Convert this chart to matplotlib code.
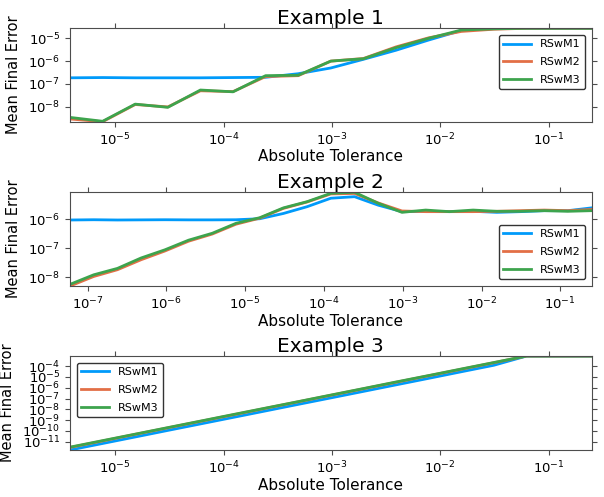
import matplotlib
matplotlib.use("Agg")
import matplotlib.pyplot as plt
from matplotlib.ticker import NullLocator

labels = ["RSwM1", "RSwM2", "RSwM3"]
colors = ["#009AFA", "#E26F46", "#3DA44D"]

# Example 1
x1 = [3.815e-6, 7.629e-6, 1.526e-5, 3.052e-5, 6.104e-5, 1.221e-4, 2.441e-4, 4.883e-4, 9.766e-4,
      1.953e-3, 3.906e-3, 7.813e-3, 1.563e-2, 3.125e-2, 6.25e-2, 0.125, 0.25]
ex1_m1 = [1.85e-7, 1.9e-7, 1.85e-7, 1.85e-7, 1.85e-7, 1.9e-7, 1.95e-7, 2.8e-7, 5.0e-7,
          1.2e-6, 3.0e-6, 8.4e-6, 2.2e-5, 2.75e-5, 2.75e-5, 2.75e-5, 2.75e-5]
ex1_m2 = [2.9e-9, 2.2e-9, 1.25e-8, 9.8e-9, 5.0e-8, 4.6e-8, 2.1e-7, 2.3e-7, 1.0e-6,
          1.3e-6, 4.2e-6, 1.05e-5, 2.0e-5, 2.5e-5, 2.75e-5, 2.75e-5, 2.75e-5]
ex1_m3 = [3.4e-9, 2.3e-9, 1.3e-8, 9.4e-9, 5.4e-8, 4.5e-8, 2.3e-7, 2.4e-7, 1.0e-6,
          1.27e-6, 3.9e-6, 1.0e-5, 2.3e-5, 2.6e-5, 2.75e-5, 2.75e-5, 2.75e-5]

# Example 2
x2 = [5.96e-8, 1.192e-7, 2.384e-7, 4.768e-7, 9.537e-7, 1.907e-6, 3.815e-6, 7.629e-6, 1.526e-5,
      3.052e-5, 6.104e-5, 1.221e-4, 2.441e-4, 4.883e-4, 9.766e-4, 1.953e-3, 3.906e-3, 7.813e-3,
      1.563e-2, 3.125e-2, 6.25e-2, 0.125, 0.25]
ex2_m1 = [0.95e-6, 0.97e-6, 0.95e-6, 0.96e-6, 0.97e-6, 0.96e-6, 0.96e-6, 0.97e-6, 1.05e-6,
          1.6e-6, 2.75e-6, 5.4e-6, 6.1e-6, 3.1e-6, 1.85e-6, 1.9e-6, 1.85e-6, 1.9e-6,
          1.75e-6, 1.85e-6, 2.0e-6, 2.0e-6, 2.5e-6]
ex2_m2 = [4.9e-9, 1.05e-8, 1.8e-8, 4.0e-8, 8.0e-8, 1.75e-7, 3.1e-7, 6.8e-7, 1.1e-6,
          2.4e-6, 4.0e-6, 7.6e-6, 7.9e-6, 3.7e-6, 1.95e-6, 1.85e-6, 1.85e-6, 1.85e-6,
          1.9e-6, 2.0e-6, 2.1e-6, 2.0e-6, 2.2e-6]
ex2_m3 = [5.6e-9, 1.2e-8, 2.0e-8, 4.6e-8, 8.8e-8, 1.9e-7, 3.3e-7, 7.3e-7, 1.14e-6,
          2.5e-6, 4.1e-6, 8.0e-6, 8.7e-6, 3.6e-6, 1.75e-6, 2.1e-6, 1.85e-6, 2.1e-6,
          1.9e-6, 1.9e-6, 2.0e-6, 1.9e-6, 2.0e-6]

# Example 3
x3 = x1
ex3_m1 = [1.75e-12, 7.0e-12, 2.8e-11, 1.13e-10, 4.5e-10, 1.8e-9, 7.2e-9, 2.9e-8, 1.15e-7,
          4.6e-7, 1.85e-6, 7.4e-6, 3.0e-5, 1.2e-4, 8.5e-4, 8.5e-4, 8.5e-4]
ex3_m2 = [3.0e-12, 1.2e-11, 4.9e-11, 1.95e-10, 7.8e-10, 3.1e-9, 1.25e-8, 5.0e-8, 2.0e-7,
          8.0e-7, 3.2e-6, 1.28e-5, 5.1e-5, 2.05e-4, 8.5e-4, 8.5e-4, 8.5e-4]
ex3_m3 = [3.2e-12, 1.28e-11, 5.1e-11, 2.05e-10, 8.2e-10, 3.3e-9, 1.31e-8, 5.2e-8, 2.1e-7,
          8.4e-7, 3.4e-6, 1.34e-5, 5.4e-5, 2.15e-4, 8.5e-4, 8.5e-4, 8.5e-4]

xt1 = [1e-5, 1e-4, 1e-3, 1e-2, 1e-1]
xt2 = [1e-7, 1e-6, 1e-5, 1e-4, 1e-3, 1e-2, 1e-1]
yt1 = [1e-8, 1e-7, 1e-6, 1e-5]
yt2 = [1e-8, 1e-7, 1e-6]
yt3 = [1e-11, 1e-10, 1e-9, 1e-8, 1e-7, 1e-6, 1e-5, 1e-4]

fig = plt.figure(figsize=(6.04, 4.97), dpi=100)


def panel(rect, title, x, series, xticks, yticks, loc):
    ax = fig.add_axes(rect)
    for ys, lab, c in zip(series, labels, colors):
        ax.plot(x, ys, color=c, lw=2, label=lab)
    ax.set_xscale("log")
    ax.set_yscale("log")
    ax.set_xlim(min(x), max(x))
    lo = min(min(s) for s in series)
    hi = max(max(s) for s in series)
    ax.set_ylim(lo, hi)
    ax.set_xticks(xticks)
    ax.set_yticks(yticks)
    ax.xaxis.set_minor_locator(NullLocator())
    ax.yaxis.set_minor_locator(NullLocator())
    ax.tick_params(which="both", direction="out", top=True, right=True,
                   labeltop=False, labelright=False, length=3.5,
                   labelsize=9.5, color="0.3")
    for s in ax.spines.values():
        s.set_color("0.3")
    ax.set_title(title, fontsize=14.5, pad=3)
    ax.set_xlabel("Absolute Tolerance", fontsize=11, labelpad=1)
    ax.set_ylabel("Mean Final Error", fontsize=10.5, labelpad=5)
    leg = ax.legend(loc=loc, fontsize=8, fancybox=True, framealpha=1,
                    handlelength=2.5, borderaxespad=0.6, labelspacing=0.7)
    leg.get_frame().set_edgecolor("0.2")
    return ax


panel([0.1159, 0.7551, 0.8637, 0.188], "Example 1", x1,
      [ex1_m1, ex1_m2, ex1_m3], xt1, yt1, "upper right")
panel([0.1159, 0.4245, 0.8637, 0.1887], "Example 2", x2,
      [ex2_m1, ex2_m2, ex2_m3], xt2, yt2, "lower right")
panel([0.1159, 0.0946, 0.8637, 0.189], "Example 3", x3,
      [ex3_m1, ex3_m2, ex3_m3], xt1, yt3, "upper left")

fig.savefig("out.png", dpi=100)
